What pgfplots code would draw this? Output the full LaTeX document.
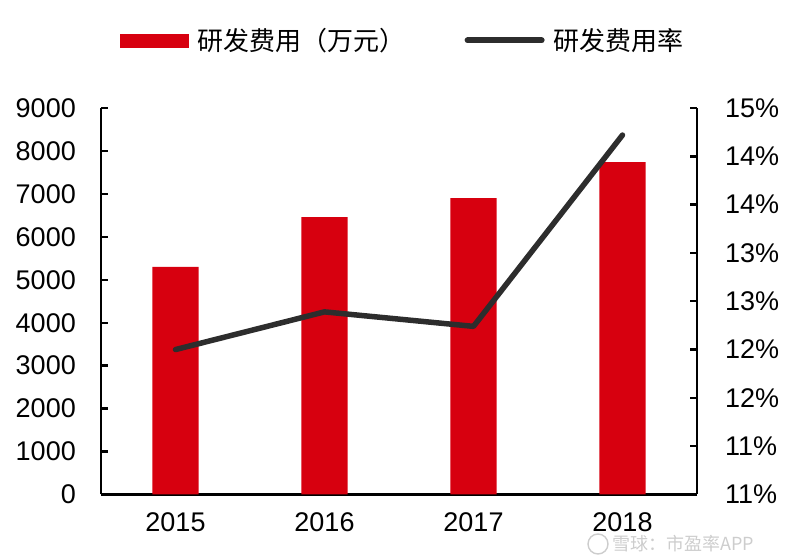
\documentclass[border=0pt]{standalone}
\usepackage{fontspec}
\setmainfont{Liberation Sans}
\newfontfamily\cjk{Noto Sans CJK SC}
\usepackage{pgfplots}
\pgfplotsset{compat=1.18}
\definecolor{barred}{RGB}{215,0,15}
\definecolor{linegray}{RGB}{45,45,45}
\definecolor{wmgray}{RGB}{205,205,205}

\pgfplotsset{
  base/.style={
    scale only axis, width=596pt, height=386.5pt,
    at={(101pt,61.5pt)}, anchor=south west,
    xmin=-0.5, xmax=3.5,
    tick align=inside, major tick length=7pt,
    axis line style={line width=2.4pt, black},
    every tick/.style={line width=2.4pt, black},
    font=\fontsize{27}{32}\selectfont,
    clip=false,
  }
}

\begin{document}
\begin{tikzpicture}
\path[use as bounding box] (0,0) rectangle (800pt,556pt);
% watermark
\draw[wmgray, line width=1.4pt] (598pt,12pt) circle (10pt);
\node[text=wmgray, anchor=west, inner sep=0pt, font=\cjk\fontsize{18}{22}\selectfont] at (612pt,12pt) {雪球：市盈率APP};

\begin{axis}[base,
  axis y line*=left, axis x line*=bottom,
  ymin=0, ymax=9000,
  ytick={0,1000,...,9000},
  yticklabels={0,1000,2000,3000,4000,5000,6000,7000,8000,9000},
  yticklabel style={inner sep=0pt, anchor=east, xshift=-25pt},
  xtick={0,1,2,3}, xticklabels={2015,2016,2017,2018},
  x tick style={draw=none},
  xticklabel style={inner sep=0pt, anchor=north, yshift=-10.5pt},
  ybar, bar width=0.31,
]
\addplot[fill=barred, draw=none] coordinates {(0,5300) (1,6460) (2,6900) (3,7740)};
\end{axis}

\begin{axis}[base,
  axis y line*=right, axis x line=none,
  ymin=11, ymax=15,
  ytick={11,11.5,12,12.5,13,13.5,14,14.5,15},
  yticklabels={11\%,11\%,12\%,12\%,13\%,13\%,14\%,14\%,15\%},
  yticklabel style={inner sep=0pt, anchor=west, xshift=28pt},
  legend style={at={(0.0319,1.175)}, anchor=west, draw=none, fill=none,
    inner sep=0pt, legend columns=2,
    font=\cjk\fontsize{26}{30}\selectfont,
    nodes={inner sep=0pt},
    /tikz/every odd column/.append style={column sep=9pt},
    /tikz/every even column/.append style={column sep=59pt}},
]
\addlegendimage{legend image code/.code={\fill[barred] (0pt,-6.5pt) rectangle (68pt,6.5pt);}}
\addlegendentry{研发费用（万元）}
\addplot[linegray, line width=5.5pt, line cap=round, line join=round,
  legend image code/.code={\draw[linegray, line width=6pt, line cap=round] (0pt,0pt) -- (74pt,0pt);}]
  coordinates {(0,12.50) (1,12.89) (2,12.74) (3,14.72)};
\addlegendentry{研发费用率}
\end{axis}
\end{tikzpicture}
\end{document}
